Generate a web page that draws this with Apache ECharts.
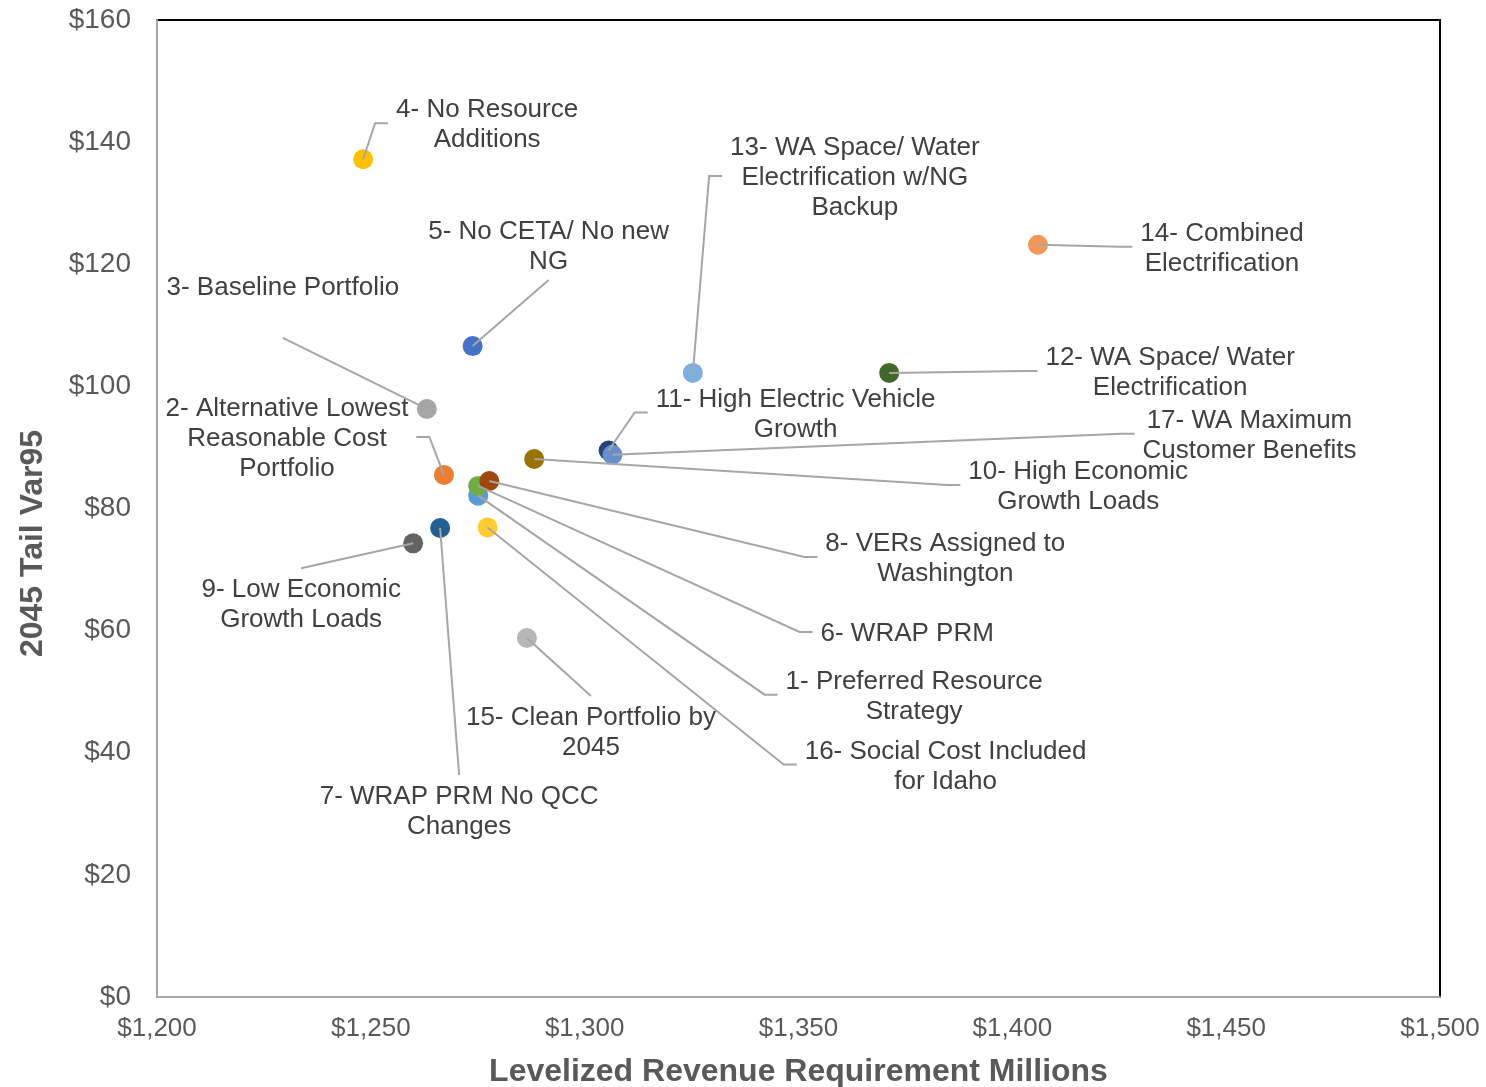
<!DOCTYPE html>
<html>
<head>
<meta charset="utf-8">
<script src="https://cdn.jsdelivr.net/npm/echarts@6/dist/echarts.min.js"></script>
<style>
html, body { margin: 0; padding: 0; background: #ffffff; }
#chart { width: 1486px; height: 1087px; }
</style>
</head>
<body>
<div id="chart"></div>
<script>
// ---- Data ----
const portfolioNames = [
  '1- Preferred Resource\nStrategy',
  '2- Alternative Lowest\nReasonable Cost\nPortfolio',
  '3- Baseline Portfolio',
  '4- No Resource\nAdditions',
  '5- No CETA/ No new\nNG',
  '6- WRAP PRM',
  '7- WRAP PRM No QCC\nChanges',
  '8- VERs Assigned to\nWashington',
  '9- Low Economic\nGrowth Loads',
  '10- High Economic\nGrowth Loads',
  '11- High Electric Vehicle\nGrowth',
  '12- WA Space/ Water\nElectrification',
  '13- WA Space/ Water\nElectrification w/NG\nBackup',
  '14- Combined\nElectrification',
  '15- Clean Portfolio by\n2045',
  '16- Social Cost Included\nfor Idaho',
  '17- WA Maximum\nCustomer Benefits'
];
const revenueRequirement = [1275.1, 1267.1, 1263.1, 1248.2, 1273.8, 1275.1, 1266.2, 1277.7, 1259.9, 1288.2, 1305.6, 1371.2, 1325.3, 1406.0, 1286.5, 1277.3, 1306.5];
const tailVar95 = [82.1, 85.5, 96.3, 137.2, 106.6, 83.7, 76.8, 84.5, 74.3, 88.1, 89.5, 102.2, 102.2, 123.2, 58.8, 76.9, 88.8];
const xTickLabels = ['$1,200', '$1,250', '$1,300', '$1,350', '$1,400', '$1,450', '$1,500'];
const yTickLabels = ['$0', '$20', '$40', '$60', '$80', '$100', '$120', '$140', '$160'];

// ---- Styles ----
const pointColors = ['#5B9BD5', '#ED7D31', '#A5A5A5', '#FFC000', '#4472C4', '#70AD47', '#255E91', '#9E480E',
  '#636363', '#997300', '#264478', '#43682B', '#7CAFDD', '#F1975A', '#B7B7B7', '#FFCD33', '#698ED0'];

// Label placement (pixel offset of label centre from its point, and side of the label the leader attaches to)
const labelLayout = [
  { dx: 436, dy: 199, side: 'left' },
  { dx: -157, dy: -38, side: 'right' },
  { dx: -144, dy: -123, side: 'bottom', gap: 52 },
  { dx: 124, dy: -36, side: 'left' },
  { dx: 76, dy: -101, side: 'bottom' },
  { dx: 429, dy: 146, side: 'left' },
  { dx: 19, dy: 282, side: 'top' },
  { dx: 456, dy: 76, side: 'left' },
  { dx: -112, dy: 60, side: 'top' },
  { dx: 544, dy: 26, side: 'left' },
  { dx: 187, dy: -38, side: 'left' },
  { dx: 281, dy: -2, side: 'left' },
  { dx: 162, dy: -197, side: 'left' },
  { dx: 184, dy: 2, side: 'left' },
  { dx: 64, dy: 93, side: 'top' },
  { dx: 458, dy: 237, side: 'left' },
  { dx: 637, dy: -21, side: 'left' }
];

const FONT = '"Liberation Sans", Arial, sans-serif';
const LABEL_SIZE = 26;
const LINE_H = 30;
const measureCtx = document.createElement('canvas').getContext('2d');
measureCtx.font = LABEL_SIZE + 'px ' + FONT;
function textWidth(s) { return measureCtx.measureText(s).width; }

const points = revenueRequirement.map((x, i) => ({
  value: [x, tailVar95[i]],
  itemStyle: { color: pointColors[i], opacity: 1 }
}));
const labelData = revenueRequirement.map((x, i) => [x, tailVar95[i]]);

const chart = echarts.init(document.getElementById('chart'));
chart.setOption({
  backgroundColor: '#ffffff',
  animation: false,
  grid: {
    left: 157, top: 20, width: 1283, height: 977,
    outerBoundsMode: 'none', containLabel: false,
    show: true, borderColor: '#000000', borderWidth: 2, backgroundColor: 'transparent'
  },
  xAxis: {
    type: 'value', min: 1200, max: 1500, interval: 50,
    name: 'Levelized Revenue Requirement Millions',
    nameLocation: 'middle', nameGap: 59,
    nameTextStyle: { fontFamily: FONT, fontSize: 32, fontWeight: 'bold', color: '#595959' },
    axisLine: { show: true, onZero: false, lineStyle: { color: '#A6A6A6', width: 2 } },
    axisTick: { show: false },
    splitLine: { show: false },
    axisLabel: {
      margin: 19, fontFamily: FONT, fontSize: 26, color: '#595959',
      formatter: v => xTickLabels[Math.round((v - 1200) / 50)]
    }
  },
  yAxis: {
    type: 'value', min: 0, max: 160, interval: 20,
    name: '2045 Tail Var95',
    nameLocation: 'middle', nameGap: 108, nameRotate: 90,
    nameTextStyle: { fontFamily: FONT, fontSize: 32, fontWeight: 'bold', color: '#595959', padding: [0, 70, 0, 0] },
    axisLine: { show: true, onZero: false, lineStyle: { color: '#A6A6A6', width: 2 } },
    axisTick: { show: false },
    splitLine: { show: false },
    axisLabel: {
      margin: 26, fontFamily: FONT, fontSize: 28, color: '#595959', padding: [7, 0, 0, 0],
      formatter: v => yTickLabels[Math.round(v / 20)]
    }
  },
  series: [
    {
      type: 'scatter',
      symbol: 'circle',
      symbolSize: 20,
      z: 2,
      itemStyle: { opacity: 1 },
      data: points
    },
    {
      type: 'custom',
      coordinateSystem: 'cartesian2d',
      z: 3,
      silent: true,
      clip: false,
      encode: { x: 0, y: 1 },
      data: labelData,
      renderItem: function (params, api) {
        const i = params.dataIndex;
        const p = api.coord([api.value(0), api.value(1)]);
        const lay = labelLayout[i];
        const cx = p[0] + lay.dx;
        const cy = p[1] + lay.dy;
        const lines = portfolioNames[i].split('\n');
        const w = Math.max.apply(null, lines.map(textWidth));
        const h = lines.length * LINE_H;
        let pts;
        if (lay.side === 'left') {
          const ex = cx - w / 2 - 8;
          pts = [p, [ex - 13, cy], [ex, cy]];
        } else if (lay.side === 'right') {
          const ex = cx + w / 2 + 8;
          pts = [p, [ex + 13, cy], [ex, cy]];
        } else if (lay.side === 'top') {
          const g = lay.gap !== undefined ? lay.gap : h / 2 + 5;
          pts = [p, [cx, cy - g]];
        } else {
          const g = lay.gap !== undefined ? lay.gap : h / 2 + 5;
          pts = [p, [cx, cy + g]];
        }
        return {
          type: 'group',
          children: [
            {
              type: 'polyline',
              shape: { points: pts },
              style: { stroke: '#A6A6A6', lineWidth: 2, fill: null }
            },
            {
              type: 'text',
              style: {
                text: portfolioNames[i],
                x: cx, y: cy + 2,
                align: 'center', verticalAlign: 'middle',
                fontFamily: FONT, fontSize: LABEL_SIZE, lineHeight: LINE_H,
                fill: '#404040'
              }
            }
          ]
        };
      }
    }
  ]
});
</script>
</body>
</html>
